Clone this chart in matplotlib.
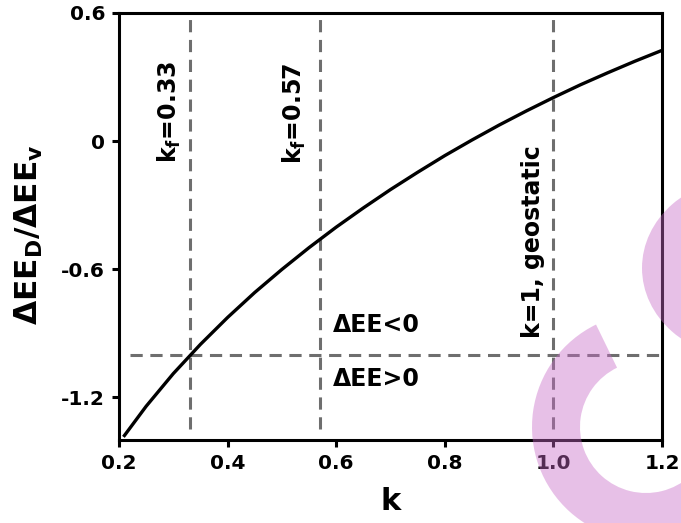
import matplotlib
matplotlib.use("Agg")
import matplotlib.pyplot as plt
from matplotlib.patches import Wedge, Ellipse

plt.rcParams['font.family'] = ['DejaVu Sans']
plt.rcParams['font.weight'] = 'bold'
plt.rcParams['mathtext.default'] = 'bf'

# ---- data ----
k_vals = [0.21, 0.25, 0.30, 0.35, 0.40, 0.45, 0.50, 0.55, 0.60, 0.65, 0.70,
          0.75, 0.80, 0.85, 0.90, 0.95, 1.00, 1.05, 1.10, 1.15, 1.20]
ratio_vals = [-1.379, -1.242, -1.089, -0.952, -0.826, -0.709, -0.601, -0.499, -0.403, -0.313, -0.227,
              -0.146, -0.068, 0.005, 0.075, 0.141, 0.204, 0.264, 0.320, 0.374, 0.425]

kf_lines = [0.33, 0.57, 1.0]
kf_labels = ["k$_f$=0.33", "k$_f$=0.57", "k=1, geostatic"]
zero_level = -1.0

xticks = [0.2, 0.4, 0.6, 0.8, 1.0, 1.2]
xtick_labels = ["0.2", "0.4", "0.6", "0.8", "1.0", "1.2"]
yticks = [0.6, 0.0, -0.6, -1.2]
ytick_labels = ["0.6", "0", "-0.6", "-1.2"]

W, H = 681, 523
fig = plt.figure(figsize=(W / 100, H / 100), dpi=100)
ax = fig.add_axes([119 / W, (H - 440) / H, 543 / W, 427 / H])

dash_color = '#6e6e6e'
for xv in kf_lines:
    ax.plot([xv, xv], [-1.35, 0.6], color=dash_color, lw=2.2, dashes=(4.0, 2.5), zorder=1)
ax.plot([0.22, 1.2], [zero_level, zero_level], color=dash_color, lw=2.2, dashes=(4.0, 2.5), zorder=1)

ax.plot(k_vals, ratio_vals, color='black', lw=2.4, zorder=3)

ax.set_xlim(0.2, 1.2)
ax.set_ylim(-1.40, 0.6)
ax.set_xticks(xticks)
ax.set_xticklabels(xtick_labels)
ax.set_yticks(yticks)
ax.set_yticklabels(ytick_labels)
ax.tick_params(direction='out', length=5, width=2.2, labelsize=14.5, pad=5)
for lab in ax.get_xticklabels() + ax.get_yticklabels():
    lab.set_fontweight('bold')
for sp in ax.spines.values():
    sp.set_linewidth(2.2)

ax.set_xlabel("k", fontsize=22, fontweight='bold', labelpad=10)
ax.set_ylabel("ΔEE$_D$/ΔEE$_v$", fontsize=22.5, fontweight='bold')
ax.yaxis.set_label_coords(-0.137, 0.48)

ax.text(0.318, 0.378, kf_labels[0], rotation=90, ha='right', va='top', fontsize=17, fontweight='bold')
ax.text(0.548, 0.368, kf_labels[1], rotation=90, ha='right', va='top', fontsize=17, fontweight='bold')
ax.text(0.985, -0.921, kf_labels[2], rotation=90, ha='right', va='bottom', fontsize=17, fontweight='bold')
ax.text(0.593, -0.916, "ΔEE<0", ha='left', va='bottom', fontsize=17, fontweight='bold')
ax.text(0.593, -1.17, "ΔEE>0", ha='left', va='bottom', fontsize=17, fontweight='bold')

# ---- pink watermark (decoration) ----
pink = (0.78, 0.42, 0.78)
def px(x, y):
    return (x / 100, (H - y) / 100)
wm1 = Wedge(px(646, 427), 1.14, 116, 340, width=0.48, transform=fig.dpi_scale_trans,
            facecolor=pink, edgecolor='none', alpha=0.42, zorder=10)
wm2 = Ellipse(px(745, 268), 2.06, 1.80, transform=fig.dpi_scale_trans,
              facecolor=pink, edgecolor='none', alpha=0.42, zorder=10)
fig.patches.extend([wm1, wm2])

fig.savefig("out.png", dpi=100)
